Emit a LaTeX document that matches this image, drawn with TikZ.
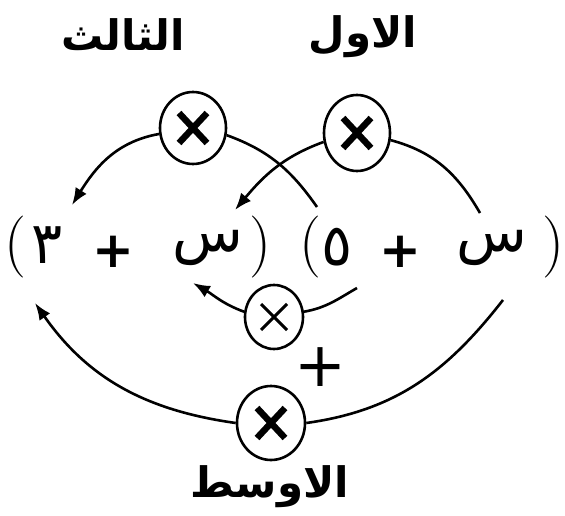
\documentclass[tikz,border=0pt]{standalone}
\usepackage{fontspec}
\newfontfamily\arabicfont[Script=Arabic]{DejaVu Sans}
\newfontfamily\symfont{DejaVu Sans}
\TeXXeTstate=1
\usetikzlibrary{arrows.meta,shapes.geometric}
\begin{document}
\begin{tikzpicture}[x=1pt,y=1pt,
  conn/.style={line width=2.6pt},
  arr/.style={conn, -{Latex[length=17pt,width=13pt]}},
  bigx/.style={ellipse, draw, line width=2.6pt, inner sep=0pt, path picture={
     \draw[line width=6.5pt] ([shift={(-14pt,-15pt)}]path picture bounding box.center) -- ([shift={(14pt,15pt)}]path picture bounding box.center);
     \draw[line width=6.5pt] ([shift={(-14pt,15pt)}]path picture bounding box.center) -- ([shift={(14pt,-15pt)}]path picture bounding box.center);}},
  smallx/.style={ellipse, draw, line width=2.6pt, inner sep=0pt, minimum width=58pt, minimum height=64pt, path picture={
     \draw[line width=3pt] ([shift={(-13pt,-13pt)}]path picture bounding box.center) -- ([shift={(13pt,13pt)}]path picture bounding box.center);
     \draw[line width=3pt] ([shift={(-13pt,13pt)}]path picture bounding box.center) -- ([shift={(13pt,-13pt)}]path picture bounding box.center);}},
  paren/.style={font=\fontsize{62}{62}\selectfont, inner sep=0pt},
  pls/.style={font=\symfont\bfseries\fontsize{50}{50}\selectfont, inner sep=0pt},
  ar/.style={font=\arabicfont\fontsize{58}{60}\selectfont, inner sep=0pt},
  lbl/.style={font=\arabicfont\bfseries\fontsize{42}{44}\selectfont, inner sep=0pt}]
\path[use as bounding box, fill=white] (0,0) rectangle (565,-516);

% labels
\node[lbl] (third) at (123,-35) {\beginR الثالث\endR};
\node[lbl] (first) at (363,-37) {\beginR الاول\endR};
\node[lbl] (mid) at (270,-487) {\beginR الاوسط\endR};

% multiplication circles
\node[bigx, minimum width=66pt, minimum height=72pt] (cL) at (193,-128) {};
\node[bigx, minimum width=66pt, minimum height=76pt] (cR) at (357,-133) {};
\node[smallx] (cM) at (274,-317) {};
\node[bigx, minimum width=68pt, minimum height=74pt] (cB) at (271,-423) {};
\node[font=\symfont\fontsize{62}{62}\selectfont, inner sep=0pt] (plus) at (320,-367) {+};

% equation
\node[paren] (lp1) at (15,-247) {(};
\node[ar] (d3) at (47,-245) {٣};
\node[pls] (pl1) at (113,-252) {+};
\node[ar] (s1) at (208,-248) {س};
\node[paren] (rp1) at (260,-247) {)};
\node[paren] (lp2) at (310,-247) {(};
\node[ar] (d5) at (337,-247) {٥};
\node[pls] (pl2) at (400,-252) {+};
\node[ar] (s2) at (492,-248) {س};
\node[paren] (rp2) at (553,-247) {)};

% free ends
\coordinate (tipA) at (72,-205);
\coordinate (endB) at (317,-207);
\coordinate (tipC) at (235,-210);
\coordinate (endD) at (480,-213);
\coordinate (tipE) at (193,-283);
\coordinate (endF) at (357,-288);
\coordinate (tipG) at (35,-303);
\coordinate (endH) at (503,-300);

% connectors
\draw[arr] (cL.190) to[out=190,in=58] (tipA);
\draw[conn] (cL.-12) to[out=-20,in=125] (endB);
\draw[arr] (cR.195) to[out=200,in=50] (tipC);
\draw[conn] (cR.-12) to[out=-15,in=120] (endD);
\draw[arr] (cM.170) to[out=160,in=-30] (tipE);
\draw[conn] (cM.10) to[out=10,in=210] (endF);
\draw[arr] (cB.180) to[out=172,in=-55] (tipG);
\draw[conn] (cB.0) to[out=8,in=232] (endH);
\end{tikzpicture}
\end{document}
